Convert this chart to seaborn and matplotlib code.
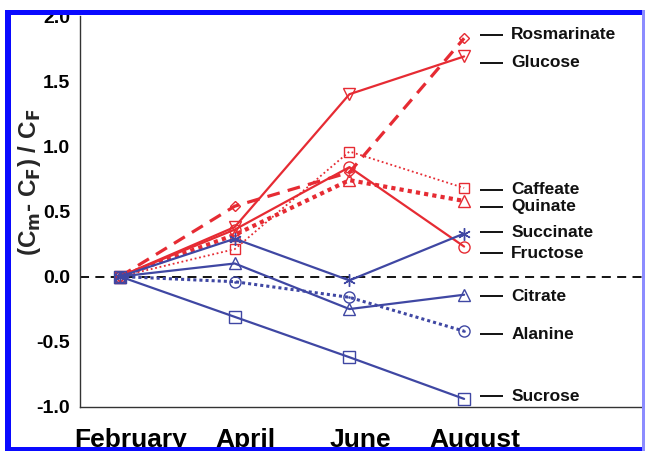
import numpy as np
import pandas as pd
import matplotlib
matplotlib.use("Agg")
import matplotlib.pyplot as plt
import matplotlib.transforms as mtransforms
import seaborn as sns
from matplotlib.patches import Rectangle

# ---------------- data ----------------
months = ["February", "April", "June", "August"]
names = ["Rosmarinate", "Glucose", "Caffeate", "Quinate", "Fructose",
         "Succinate", "Citrate", "Alanine", "Sucrose"]
rosmarinate = [0.0, 0.54, 0.80, 1.83]
glucose     = [0.0, 0.38, 1.40, 1.69]
caffeate    = [0.0, 0.21, 0.96, 0.68]
quinate     = [0.0, 0.32, 0.74, 0.58]
fructose    = [0.0, 0.36, 0.84, 0.23]
succinate   = [0.0, 0.29, -0.03, 0.33]
citrate     = [0.0, 0.10, -0.25, -0.14]
alanine     = [0.0, -0.04, -0.16, -0.42]
sucrose     = [0.0, -0.31, -0.62, -0.94]
series = [rosmarinate, glucose, caffeate, quinate, fructose,
          succinate, citrate, alanine, sucrose]
yticks = [-1.0, -0.5, 0.0, 0.5, 1.0, 1.5, 2.0]

# label anchor heights (layout), same order as names
label_y = [1.855, 1.64, 0.665, 0.535, 0.18, 0.34, -0.15, -0.445, -0.92]

# ---------------- style ----------------
RED = "#e62b33"
BLUE = "#3f47a3"
styles = [
    dict(color=RED,  ls=(0, (4, 2.6)), lw=2.3, marker="D", ms=5.5),
    dict(color=RED,  ls="-",           lw=1.6, marker="v", ms=8),
    dict(color=RED,  ls=(0, (1, 1.5)), lw=1.3, marker="s", ms=7.5),
    dict(color=RED,  ls=(0, (1, 1)),   lw=3.0, marker="^", ms=8),
    dict(color=RED,  ls="-",           lw=1.6, marker="o", ms=8),
    dict(color=BLUE, ls="-",           lw=1.6, marker=(6, 2, 0), ms=9),
    dict(color=BLUE, ls="-",           lw=1.6, marker="^", ms=8),
    dict(color=BLUE, ls=(0, (1, 1)),   lw=2.2, marker="o", ms=8),
    dict(color=BLUE, ls="-",           lw=1.6, marker="s", ms=8),
]

sns.set_style("white")
plt.rcParams["font.family"] = ["Liberation Sans", "DejaVu Sans"]

W, H = 645, 451
fig = plt.figure(figsize=(W / 100, H / 100), dpi=100)
ax = fig.add_axes([80 / W, 1 - 406.7 / H, (642 - 80) / W, (406.7 - 16.1) / H])

xpos = np.arange(len(months))

# zero reference line
ax.axhline(0, color="black", lw=1.3, ls=(0, (5, 3.5)), zorder=1)

for name, vals, st in zip(names, series, styles):
    df = pd.DataFrame({"x": xpos, "y": vals})
    sns.lineplot(data=df, x="x", y="y", ax=ax, color=st["color"],
                 linewidth=st["lw"], marker=st["marker"], markersize=st["ms"],
                 markerfacecolor="none", markeredgecolor=st["color"],
                 markeredgewidth=1.0, zorder=3)
    ax.lines[-1].set_linestyle(st["ls"])

# center dots in Alanine circles
sns.scatterplot(x=xpos[1:], y=alanine[1:], ax=ax, color=BLUE, s=3,
                edgecolor=BLUE, zorder=4)

# right-side labels with short leader lines
for name, ly in zip(names, label_y):
    ax.plot([3.14, 3.34], [ly, ly], color="black", lw=1.3, clip_on=False,
            solid_capstyle="butt")
    ax.text(3.41, ly, name, fontsize=12.5, fontweight="bold", va="center",
            ha="left", color="#111111")

ax.set_xlim(-0.349, 4.551)
ax.set_ylim(-1.0, 2.0)
ax.set_xticks(xpos)
ax.set_xticklabels(months, fontsize=19, fontweight="bold")
ax.set_yticks(yticks)
ax.set_yticklabels([f"{v:.1f}" for v in yticks], fontsize=14, fontweight="bold")
ax.tick_params(axis="x", direction="in", length=5, width=1, pad=15,
               colors="black")
ax.tick_params(axis="y", direction="out", length=5, width=1, pad=2,
               colors="black")
shift = mtransforms.ScaledTranslation(11 / 100, 0, fig.dpi_scale_trans)
for lab in ax.get_xticklabels():
    lab.set_transform(lab.get_transform() + shift)
ax.set_xlabel("")
ax.set_ylabel("")
for s in ["top", "right"]:
    ax.spines[s].set_visible(False)
for s in ["left", "bottom"]:
    ax.spines[s].set_color("#333333")
    ax.spines[s].set_linewidth(1.0)

fig.text(30 / W, 1 - 182 / H, r"(C$_\mathbf{m}$- C$_\mathbf{F}$) / C$_\mathbf{F}$",
         rotation=90, ha="center", va="center", fontsize=17.5,
         fontweight="bold")

# blue frame
def px_rect(x0, y0, x1, y1, color):
    fig.add_artist(Rectangle((x0 / W, 1 - y1 / H), (x1 - x0) / W,
                             (y1 - y0) / H, transform=fig.transFigure,
                             facecolor=color, edgecolor="none", zorder=10))

px_rect(5, 10, 11, 451, "#0a0aff")
px_rect(5, 10, 645, 15, "#0a0aff")
px_rect(5, 447, 645, 451, "#0a0aff")
px_rect(642, 10, 645, 451, "#8c8cff")

fig.savefig("out.png", dpi=100)
